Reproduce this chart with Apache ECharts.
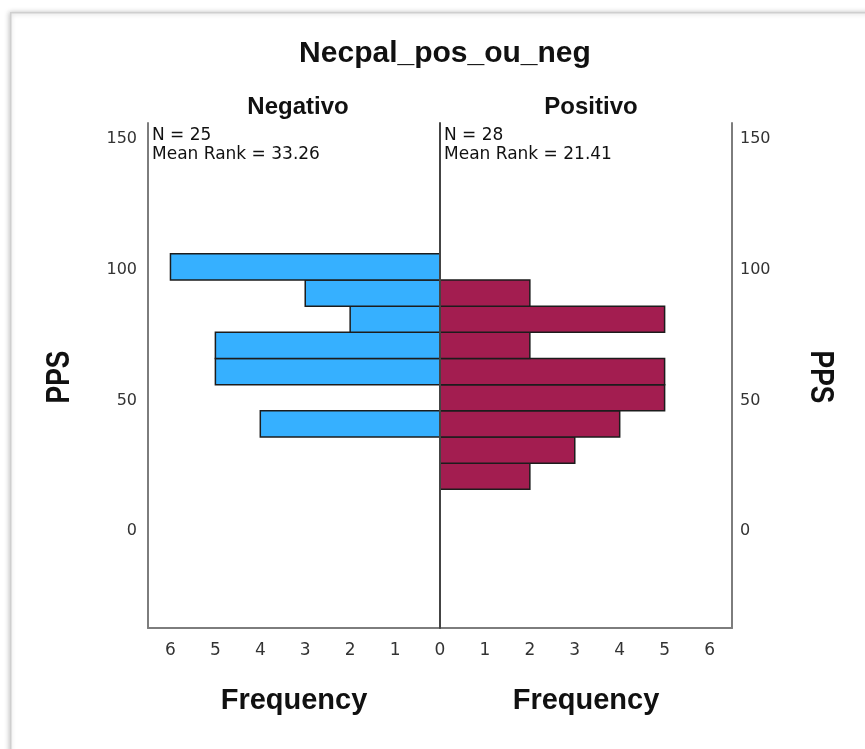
<!DOCTYPE html>
<html>
<head>
<meta charset="utf-8">
<title>Necpal_pos_ou_neg</title>
<script src="https://cdn.jsdelivr.net/npm/echarts@6/dist/echarts.min.js"></script>
<style>
  html, body { margin: 0; padding: 0; background: #fff; }
  #chart { width: 865px; height: 749px; }
</style>
</head>
<body>
<div id="chart"></div>
<script>
// histogram bins (PPS), lower edge of each bin
const binStart = [16, 26, 36, 46, 56, 66, 76, 86, 96];
const binWidth = 10;
// frequencies per bin
const negCounts = [0, 0, 4, 0, 5, 5, 2, 3, 6];
const posCounts = [2, 3, 4, 5, 5, 2, 5, 2, 0];
// tick labels
const ppsTicks = [0, 50, 100, 150];
const freqTicksNeg = [1, 2, 3, 4, 5, 6];
const freqTicksPos = [0, 1, 2, 3, 4, 5, 6];
const groupNames = ['Negativo', 'Positivo'];
const statsNeg = ['N = 25', 'Mean Rank = 33.26'];
const statsPos = ['N = 28', 'Mean Rank = 21.41'];

const yMin = -37, yMax = 156, xMax = 6.5;
const axisGray = '#7d7d7d';
const labelFont = 'DejaVu Sans';
const boldFont = 'Liberation Sans, Arial, sans-serif';

function toRows(counts) {
  // [lo, hi, count]; empty bins are not drawn
  return binStart.map((s, i) => [s, s + binWidth, counts[i]]).filter(r => r[2] > 0);
}

function barRenderer(fill) {
  return function (params, api) {
    const lo = api.value(0), hi = api.value(1), n = api.value(2);
    const a = api.coord([0, hi]);
    const b = api.coord([n, lo]);
    return {
      type: 'rect',
      shape: {
        x: Math.min(a[0], b[0]),
        y: a[1],
        width: Math.abs(b[0] - a[0]),
        height: b[1] - a[1]
      },
      style: { fill: fill, stroke: '#1c1c1c', lineWidth: 1.5 }
    };
  };
}

const chart = echarts.init(document.getElementById('chart'), null, { renderer: 'canvas' });

function yAxisBase(grid, pos, showLabel) {
  return {
    type: 'value',
    gridIndex: grid,
    position: pos,
    min: yMin,
    max: yMax,
    splitLine: { show: false },
    axisTick: { show: false },
    axisLine: { show: true, onZero: false, lineStyle: { color: axisGray, width: 2 } },
    axisLabel: {
      show: showLabel,
      customValues: ppsTicks,
      color: '#333',
      fontFamily: labelFont,
      fontSize: 16,
      margin: pos === 'left' ? 11 : 8
    }
  };
}

function xAxisBase(grid, inverse, ticks) {
  return {
    type: 'value',
    gridIndex: grid,
    min: 0,
    max: xMax,
    inverse: inverse,
    splitLine: { show: false },
    axisTick: { show: false },
    axisLine: { show: true, onZero: false, lineStyle: { color: axisGray, width: 2 } },
    axisLabel: {
      customValues: ticks,
      color: '#333',
      fontFamily: labelFont,
      fontSize: 17,
      margin: 14
    },
    name: 'Frequency',
    nameLocation: 'middle',
    nameGap: 58,
    nameTextStyle: { fontFamily: boldFont, fontWeight: 'bold', fontSize: 29, color: '#111' }
  };
}

// center divider
const centerY = yAxisBase(1, 'left', false);
centerY.axisLine.lineStyle.color = '#444';
centerY.z = 5;

function statsText(x, lines) {
  return {
    type: 'text',
    left: x,
    top: 126,
    z: 10,
    style: {
      text: lines.join('\n'),
      font: '17px "DejaVu Sans"',
      lineHeight: 19,
      fill: '#111'
    }
  };
}

function ppsLabel(cx, rot) {
  // narrow bold axis title, squeezed along its reading direction
  return {
    type: 'text',
    x: cx,
    y: 377,
    rotation: rot,
    scaleX: 0.8,
    z: 10,
    style: {
      text: 'PPS',
      font: 'bold 33px "Liberation Sans"',
      fill: '#111',
      align: 'center',
      verticalAlign: 'middle'
    }
  };
}

const option = {
  animation: false,
  backgroundColor: '#fff',
  title: [
    {
      text: 'Necpal_pos_ou_neg',
      left: 440,
      top: 34,
      textAlign: 'center',
      textStyle: { fontFamily: boldFont, fontWeight: 'bold', fontSize: 30, color: '#111' }
    },
    {
      text: groupNames[0],
      left: 293,
      top: 90,
      textAlign: 'center',
      textStyle: { fontFamily: boldFont, fontWeight: 'bold', fontSize: 24, color: '#111' }
    },
    {
      text: groupNames[1],
      left: 586,
      top: 90,
      textAlign: 'center',
      textStyle: { fontFamily: boldFont, fontWeight: 'bold', fontSize: 24, color: '#111' }
    }
  ],
  grid: [
    { left: 148, right: 425, top: 123, bottom: 121 },
    { left: 440, right: 133, top: 123, bottom: 121 }
  ],
  xAxis: [
    xAxisBase(0, true, freqTicksNeg),
    xAxisBase(1, false, freqTicksPos)
  ],
  yAxis: [yAxisBase(0, 'left', true), yAxisBase(1, 'right', true), centerY],
  series: [
    {
      name: groupNames[0],
      type: 'custom',
      xAxisIndex: 0,
      yAxisIndex: 0,
      renderItem: barRenderer('#36B0FF'),
      encode: { x: 2, y: [0, 1] },
      data: toRows(negCounts)
    },
    {
      name: groupNames[1],
      type: 'custom',
      xAxisIndex: 1,
      yAxisIndex: 1,
      renderItem: barRenderer('#A31D50'),
      encode: { x: 2, y: [0, 1] },
      data: toRows(posCounts)
    }
  ],
  graphic: [
    // outer frame with soft shadow
    {
      type: 'rect',
      left: 10,
      top: 12,
      z: -10,
      shape: { width: 900, height: 800 },
      style: {
        fill: '#fff',
        stroke: '#cfcfcf',
        lineWidth: 1.5,
        shadowBlur: 5,
        shadowColor: 'rgba(0,0,0,0.25)',
        shadowOffsetX: -1,
        shadowOffsetY: 0
      }
    },
    statsText(152, statsNeg),
    statsText(444, statsPos),
    ppsLabel(60, Math.PI / 2),
    ppsLabel(820, -Math.PI / 2)
  ]
};

chart.setOption(option);
window.addEventListener('resize', function () {
  chart.resize();
});
</script>
</body>
</html>
